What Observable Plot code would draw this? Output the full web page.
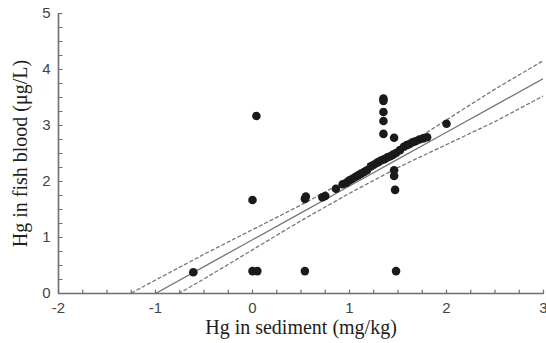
<!DOCTYPE html>
<html>
<head>
<meta charset="utf-8">
<script src="https://cdn.jsdelivr.net/npm/d3@7"></script>
<script src="https://cdn.jsdelivr.net/npm/@observablehq/plot@0.6"></script>
<style>
  html, body { margin: 0; padding: 0; background: #fff; }
  #chart svg { display: block; }
  g[aria-label="x-axis label"] text, g[aria-label="y-axis label"] text {
    font-family: "Liberation Serif", "DejaVu Serif", serif;
    fill: #1e1e1e;
  }
  g[aria-label="x-axis tick label"] text, g[aria-label="y-axis tick label"] text {
    font-family: "Liberation Sans", Arial, sans-serif;
    fill: #444;
  }
</style>
</head>
<body>
<div id="chart"></div>
<script>
// Scatter observations (Hg in sediment, Hg in fish blood)
const sediment = [
  -0.61, 0.00, 0.05, 0.54, 1.48,
  0.00, 0.04, 0.54, 0.55,
  1.35, 1.35, 1.35, 1.35, 1.35,
  1.46, 1.46, 1.46, 1.47, 2.00,
  0.72, 0.75, 0.86, 0.93, 0.97, 1.00, 1.03, 1.06, 1.09, 1.12, 1.15, 1.18,
  1.22, 1.25, 1.28, 1.30, 1.33, 1.36, 1.39, 1.42, 1.45, 1.48,
  1.52, 1.56, 1.59, 1.62, 1.65, 1.68, 1.72, 1.76, 1.80
];
const blood = [
  0.38, 0.40, 0.40, 0.40, 0.40,
  1.67, 3.17, 1.69, 1.73,
  3.48, 3.44, 3.24, 3.08, 2.85,
  2.78, 2.20, 2.10, 1.85, 3.03,
  1.72, 1.74, 1.87, 1.95, 1.98, 2.02, 2.05, 2.08, 2.11, 2.14, 2.17, 2.20,
  2.27, 2.30, 2.33, 2.35, 2.38, 2.40, 2.43, 2.45, 2.48, 2.51,
  2.56, 2.62, 2.65, 2.67, 2.70, 2.72, 2.75, 2.77, 2.79
];

// Regression line and its confidence band
const fitX = [-1.3, -1, -0.5, 0, 0.5, 1, 1.5, 2, 2.5, 3];
const fitY = [-0.29, 0, 0.48, 0.96, 1.44, 1.92, 2.40, 2.88, 3.36, 3.84];
const upperY = [-0.04, 0.24, 0.70, 1.14, 1.58, 2.05, 2.55, 3.10, 3.65, 4.16];
const lowerY = [-0.52, -0.24, 0.26, 0.78, 1.30, 1.79, 2.25, 2.66, 3.07, 3.53];

// Axis ticks
const xTicks = [-2, -1, 0, 1, 2, 3];
const yTicks = [0, 1, 2, 3, 4, 5];
const xMinor = d3.range(-2, 3.001, 0.25);
const yMinor = d3.range(0, 5.001, 0.25);

const points = sediment.map((x, i) => ({x, y: blood[i]}));
const fit = fitX.map((x, i) => ({x, y: fitY[i], up: upperY[i], lo: lowerY[i]}));

const axisColor = "#6e6e6e";
const tickFmt = d => String(d); // plain hyphen minus, no decimals
const tickShape = {draw(context, l) { context.moveTo(0, 0); context.lineTo(0, -l); }};

const chart = Plot.plot({
  width: 546,
  height: 343,
  marginLeft: 58,
  marginRight: 3,
  marginTop: 13,
  marginBottom: 50,
  style: {background: "#fff", overflow: "visible"},
  x: {domain: [-2, 3]},
  y: {domain: [0, 5]},
  marks: [
    Plot.line(fit, {x: "x", y: "up", stroke: "#777", strokeWidth: 1.3, strokeDasharray: "3,3", clip: true}),
    Plot.line(fit, {x: "x", y: "lo", stroke: "#777", strokeWidth: 1.3, strokeDasharray: "3,3", clip: true}),
    Plot.line(fit, {x: "x", y: "y", stroke: "#777", strokeWidth: 1.3, clip: true}),
    Plot.dot(points, {x: "x", y: "y", r: 4.3, fill: "#1a1a1a", stroke: "none"}),
    // tick labels
    Plot.axisX({ticks: xTicks, tickSize: 0, tickPadding: 9, fontSize: 15, tickFormat: tickFmt, label: null}),
    Plot.axisY({ticks: yTicks, tickSize: 0, tickPadding: 8, fontSize: 15, tickFormat: tickFmt, label: null}),
    // inward minor tick marks
    Plot.vector(xMinor, {x: d => d, y: () => 0, length: 3.5, rotate: 0, anchor: "start", shape: tickShape, stroke: axisColor, strokeWidth: 1.2}),
    Plot.vector(yMinor, {x: () => -2, y: d => d, length: 3.5, rotate: 90, anchor: "start", shape: tickShape, stroke: axisColor, strokeWidth: 1.2}),
    // axis titles
    Plot.axisX({ticks: [], label: "Hg in sediment (mg/kg)", labelAnchor: "center", labelArrow: "none", labelOffset: 40, fontSize: 20, dx: -8}),
    Plot.axisY({ticks: [], label: "Hg in fish blood (μg/L)", labelAnchor: "center", labelArrow: "none", labelOffset: 46, fontSize: 20}),
    // axis lines
    Plot.ruleX([-2], {stroke: axisColor, strokeWidth: 1.6}),
    Plot.ruleY([0], {stroke: axisColor, strokeWidth: 1.6})
  ]
});
document.getElementById("chart").appendChild(chart);
</script>
</body>
</html>
